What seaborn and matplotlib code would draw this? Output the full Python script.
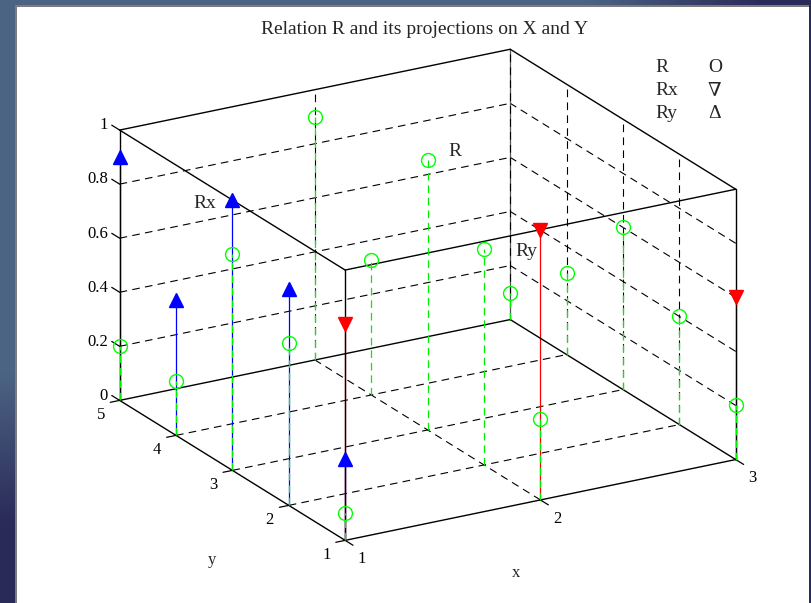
import numpy as np
import pandas as pd
import matplotlib
matplotlib.use("Agg")
import matplotlib.pyplot as plt
from matplotlib.patches import Rectangle
from mpl_toolkits.mplot3d import proj3d
import seaborn as sns

# universe of discourse
x_vals = [1, 2, 3]
y_vals = [1, 2, 3, 4, 5]
# membership grades of R(x, y), one list per x value (y = 1..5)
R_x1 = [0.1, 0.6, 0.8, 0.2, 0.2]
R_x2 = [0.3, 0.8, 1.0, 0.5, 0.9]
R_x3 = [0.2, 0.4, 0.6, 0.3, 0.1]
# projections of R
Rx = [0.8, 1.0, 0.6]             # on X, stems along y = 1
Ry = [0.3, 0.8, 1.0, 0.5, 0.9]   # on Y, stems along x = 1
z_ticks = [0, 0.2, 0.4, 0.6, 0.8, 1.0]
z_tick_labels = ["0", "0.2", "0.4", "0.6", "0.8", "1"]
x_tick_labels = ["1", "2", "3"]
y_tick_labels = ["1", "2", "3", "4", "5"]

rel = pd.DataFrame({
    "x": np.repeat(x_vals, len(y_vals)),
    "y": y_vals * len(x_vals),
    "mu": R_x1 + R_x2 + R_x3,
})

sns.set_theme(style="white")
plt.rcParams["font.family"] = ["Liberation Serif", "DejaVu Serif"]
plt.rcParams["lines.scale_dashes"] = False

W, H = 812, 603
fig = plt.figure(figsize=(W / 100, H / 100), dpi=100)


def fx(px):
    return px / W


def fy(py):
    return 1 - py / H


# slide backdrop with the white figure panel
bg = fig.add_axes([0, 0, 1, 1])
bg.set_axis_off()
gx, gy = np.meshgrid(np.linspace(0, 1, 300), np.linspace(0, 1, 300))
t = np.clip(np.maximum((gx - 0.72) / 0.22, (gy - 0.62) / 0.25), 0, 1)[..., None]
steel = np.array([0x4c, 0x64, 0x84]) / 255
navy = np.array([0x2a, 0x2a, 0x58]) / 255
bg.imshow(steel * (1 - t) + navy * t, extent=[0, 1, 0, 1], origin="upper", aspect="auto")
bg.add_patch(Rectangle((fx(15), 0), fx(809) - fx(15), fy(5), color="#7c7c7c", lw=0))
bg.add_patch(Rectangle((fx(17), 0), fx(809) - fx(17), fy(7), color="white", lw=0))
bg.set_xlim(0, 1)
bg.set_ylim(0, 1)

# 3-D axes, orthographic view
S = 680
cx, cy = 418.5, 304
ax = fig.add_axes([fx(cx - S / 2), fy(cy + S / 2), S / W, S / H],
                  projection="3d", computed_zorder=False)
ax.set_proj_type("ortho")
ax.view_init(elev=21, azim=-120)
ax.set_box_aspect((1, 1, 0.642))
ax.set_xlim(1, 3)
ax.set_ylim(1, 5)
ax.set_zlim(0, 1)
ax.set_xticks([])
ax.set_yticks([])
ax.set_zticks([])
ax.set_axis_off()
ax.patch.set_alpha(0)

x0, x1 = x_vals[0], x_vals[-1]
y0, y1 = y_vals[0], y_vals[-1]
grid_kw = dict(color="black", lw=0.8, ls=(0, (5.5, 3.8)), zorder=1)

# grid on the floor and the two back walls
for xv in x_vals[1:-1]:
    ax.plot([xv, xv], [y0, y1], [0, 0], **grid_kw)
    ax.plot([xv, xv], [y1, y1], [0, 1], **grid_kw)
for yv in y_vals[1:-1]:
    ax.plot([x0, x1], [yv, yv], [0, 0], **grid_kw)
    ax.plot([x1, x1], [yv, yv], [0, 1], **grid_kw)
for zv in z_ticks[1:-1]:
    ax.plot([x0, x1], [y1, y1], [zv, zv], **grid_kw)
    ax.plot([x1, x1], [y0, y1], [zv, zv], **grid_kw)
ax.plot([x1, x1], [y1, y1], [0, 1], color="#555555", lw=0.9, zorder=1)
ax.plot([x1, x1], [y1, y1], [0, 1], **grid_kw)

# box outline
edge_kw = dict(color="black", lw=1.0, zorder=3.5)
for zv in (0, 1):
    ax.plot([x0, x1], [y0, y0], [zv, zv], **edge_kw)
    ax.plot([x0, x1], [y1, y1], [zv, zv], **edge_kw)
    ax.plot([x0, x0], [y0, y1], [zv, zv], **edge_kw)
    ax.plot([x1, x1], [y0, y1], [zv, zv], **edge_kw)
for xv, yv in ((x0, y0), (x1, y0), (x0, y1)):
    ax.plot([xv, xv], [yv, yv], [0, 1], **edge_kw)

# tick marks
tick_kw = dict(color="black", lw=0.9, zorder=3.5)
for zv in z_ticks:
    ax.plot([x0, x0], [y1, y1 + 0.14], [zv, zv], **tick_kw)
for yv in y_vals:
    ax.plot([x0, x0 - 0.048], [yv, yv], [0, 0], **tick_kw)
for xv in x_vals:
    ax.plot([xv, xv], [y0, y0 - 0.14], [0, 0], **tick_kw)

# projection stems
for yv, v in zip(y_vals, Ry):
    ax.plot([x0, x0], [yv, yv], [0, v], color="#0000ff", lw=0.9, zorder=3)
for xv, v in zip(x_vals, Rx):
    ax.plot([xv, xv], [y0, y0], [0, v], color="#ff0000", lw=0.9, zorder=3)

# relation stems
green = "#00ee00"
for _, r in rel.iterrows():
    ax.plot([r.x, r.x], [r.y, r.y], [0, r.mu], color=green, lw=0.9,
            ls=(0, (5.5, 3.5)), zorder=4)

ax.plot(rel["x"], rel["y"], rel["mu"], ls="none", marker="o", ms=10,
        mfc="none", mec="#00ff00", mew=1.0, zorder=5)
ax.plot([x0] * len(y_vals), y_vals, Ry, ls="none", marker="^", ms=10.5,
        color="#0000ff", zorder=5)
ax.plot(x_vals, [y0] * len(x_vals), Rx, ls="none", marker="v", ms=10.5,
        color="#ff0000", zorder=5)

# tick labels: anchor points projected through the 3-D view
fig.canvas.draw()
M = ax.get_proj()


def label3d(x, y, z, s, **kw):
    px, py, _ = proj3d.proj_transform(x, y, z, M)
    dx, dy = ax.transData.transform((px, py))
    fig.text(dx / W, dy / H, s, **kw)


tick_font = dict(fontsize=12, color="black")
for zv, lab in zip(z_ticks, z_tick_labels):
    label3d(x0, y1 + 0.21, zv - 0.01, lab, ha="right", va="center", **tick_font)
for yv, lab in zip(y_vals, y_tick_labels):
    label3d(x0 - 0.097, yv, -0.041, lab, ha="center", va="center", **tick_font)
for xv, lab in zip(x_vals, x_tick_labels):
    label3d(xv, y0 - 0.30, -0.031, lab, ha="center", va="center", **tick_font)

# titles, axis names and annotations
fig.text(fx(425), fy(30), "Relation R and its projections on X and Y",
         ha="center", va="center", fontsize=14)
fig.text(fx(212), fy(560), "y", ha="center", va="center", fontsize=12)
fig.text(fx(516), fy(573), "x", ha="center", va="center", fontsize=12)
fig.text(fx(205), fy(203), "Rx", ha="center", va="center", fontsize=14)
fig.text(fx(455), fy(152), "R", ha="center", va="center", fontsize=14)
fig.text(fx(526), fy(252), "Ry", ha="center", va="center", fontsize=14)

for row, (name, sym) in enumerate([("R", "O"), ("Rx", "\u2207"), ("Ry", "\u0394")]):
    fig.text(fx(655), fy(68 + row * 22.5), name, ha="left", va="center", fontsize=14)
    fig.text(fx(708), fy(68 + row * 22.5), sym, ha="left", va="center", fontsize=14)

fig.savefig("out.png", dpi=100)
